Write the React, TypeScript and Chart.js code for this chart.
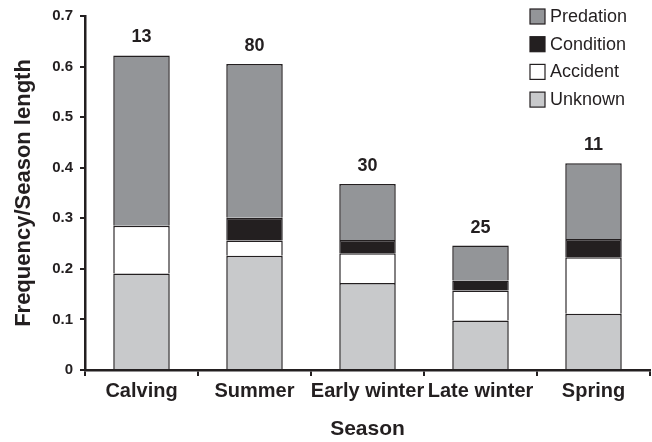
import React, { useEffect, useRef } from "react";
import { Chart, registerables } from "chart.js";

Chart.register(...registerables);

const seasons = ["Calving", "Summer", "Early winter", "Late winter", "Spring"];
const unknown = [0.191, 0.226, 0.172, 0.098, 0.111];
const accident = [0.094, 0.03, 0.059, 0.059, 0.112];
const condition = [0, 0.045, 0.026, 0.02, 0.036];
const predation = [0.337, 0.304, 0.111, 0.069, 0.15];
const counts = ["13", "80", "30", "25", "11"];

const FONT = "'Liberation Sans', Arial, Helvetica, sans-serif";
const INK = "#231f20";

const legendItems = [
  { label: "Predation", color: "#939598" },
  { label: "Condition", color: "#231f20" },
  { label: "Accident", color: "#ffffff" },
  { label: "Unknown", color: "#c8c9cb" },
];

const countLabels = {
  id: "countLabels",
  afterDatasetsDraw(chart: any) {
    const { ctx, scales } = chart;
    ctx.save();
    ctx.fillStyle = INK;
    ctx.font = `bold 18px ${FONT}`;
    ctx.textAlign = "center";
    ctx.textBaseline = "bottom";
    seasons.forEach((_, i) => {
      const total = unknown[i] + accident[i] + condition[i] + predation[i];
      const x = scales.x.getPixelForValue(i);
      const y = scales.y.getPixelForValue(total);
      ctx.fillText(counts[i], x, y - 9);
    });
    ctx.restore();
  },
};

const customLegend = {
  id: "customLegend",
  afterDraw(chart: any) {
    const { ctx } = chart;
    ctx.save();
    ctx.font = `18px ${FONT}`;
    ctx.textBaseline = "middle";
    ctx.textAlign = "left";
    legendItems.forEach((it, i) => {
      const cy = 16 + i * 27.7;
      ctx.fillStyle = it.color;
      ctx.fillRect(530, cy - 7, 15, 15);
      ctx.strokeStyle = INK;
      ctx.lineWidth = 1.2;
      ctx.strokeRect(530, cy - 7, 15, 15);
      ctx.fillStyle = INK;
      ctx.fillText(it.label, 550, cy + 1);
    });
    ctx.restore();
  },
};

export default function App() {
  const ref = useRef<HTMLCanvasElement | null>(null);
  useEffect(() => {
    if (!ref.current) return;
    const mk = (label: string, data: number[], color: string) => ({
      label,
      data,
      backgroundColor: color,
      borderColor: INK,
      borderWidth: 1.5,
      borderSkipped: "bottom",
      barPercentage: 0.5,
      categoryPercentage: 1,
    });
    const chart = new Chart(ref.current, {
      type: "bar",
      data: {
        labels: seasons,
        datasets: [
          mk("Unknown", unknown, "#c8c9cb"),
          mk("Accident", accident, "#ffffff"),
          mk("Condition", condition, "#231f20"),
          mk("Predation", predation, "#939598"),
        ],
      },
      options: {
        animation: false,
        responsive: false,
        maintainAspectRatio: false,
        layout: { padding: { top: 0, right: 2, left: 0, bottom: 0 } },
        plugins: {
          legend: { display: false },
          tooltip: { enabled: false },
        },
        scales: {
          x: {
            stacked: true,
            grid: {
              drawOnChartArea: false,
              drawTicks: true,
              tickLength: 6,
              color: INK,
              lineWidth: 2,
              offset: true,
            },
            border: { color: INK, width: 2.5 },
            ticks: {
              color: INK,
              font: { family: FONT, size: 20, weight: "bold" },
              padding: 3,
              maxRotation: 0,
              autoSkip: false,
            },
            title: {
              display: true,
              text: "Season",
              color: INK,
              font: { family: FONT, size: 21, weight: "bold" },
              padding: { top: 0, bottom: 0 },
            },
            afterFit: (s: any) => {
              s.height = 72;
            },
          },
          y: {
            stacked: true,
            min: 0,
            max: 0.7,
            grid: {
              drawOnChartArea: false,
              drawTicks: true,
              tickLength: 5,
              color: INK,
              lineWidth: 2,
            },
            border: { color: INK, width: 2.5 },
            ticks: {
              stepSize: 0.1,
              color: INK,
              font: { family: FONT, size: 15, weight: "bold" },
              padding: 7,
              callback: (v: any) => (v === 0 ? "0" : Number(v).toFixed(1)),
            },
            title: {
              display: true,
              text: "Frequency/Season length",
              color: INK,
              font: { family: FONT, size: 22, weight: "bold" },
              padding: { top: 11, bottom: 0 },
            },
            afterFit: (s: any) => {
              s.width = 85;
            },
          },
        },
      },
      plugins: [countLabels, customLegend],
    });
    return () => chart.destroy();
  }, []);
  return (
    <div style={{ position: "fixed", left: 0, top: 0, width: 652, height: 442, background: "#fff" }}>
      <canvas ref={ref} width={652} height={442} style={{ width: 652, height: 442 }} />
    </div>
  );
}
